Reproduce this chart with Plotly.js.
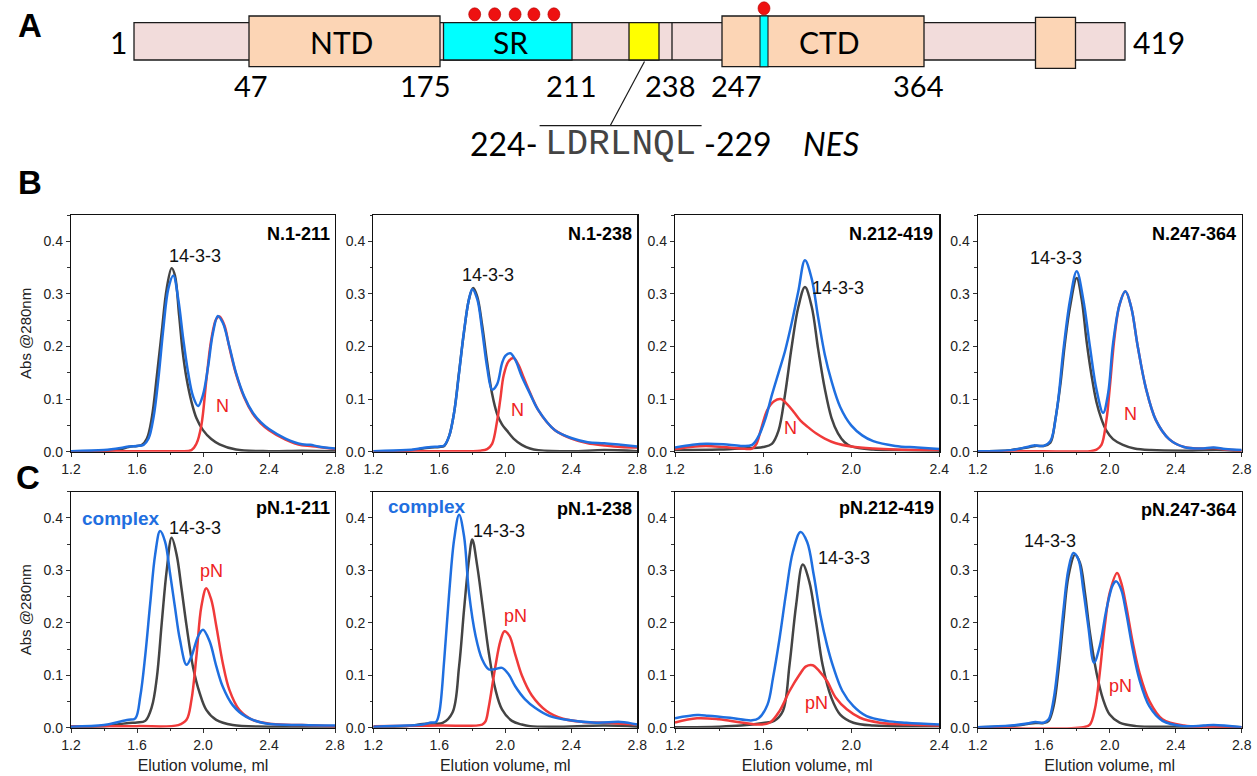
<!DOCTYPE html>
<html><head><meta charset="utf-8">
<script src="https://cdn.plot.ly/plotly-3.0.1.min.js"></script>
<style>html,body{margin:0;padding:0;background:#fff}#chart{width:1257px;height:776px}</style>
</head><body><div id="chart"></div>
<script>
// ================= DATA =================
// Panel A (domain schematic) texts
const endLabels = ['1', '419'];
const domainNames = ['NTD', 'SR', 'CTD'];
const boundaryLabels = ['47', '175', '211', '238', '247', '364'];
const nesFrom = '224-';
const nesSeq = 'LDRLNQL';
const nesTo = '-229';
const nesName = 'NES';

// Panel titles and labels
const panelTitles = ['N.1-211', 'N.1-238', 'N.212-419', 'N.247-364', 'pN.1-211', 'pN.1-238', 'pN.212-419', 'pN.247-364'];
const xTitle = 'Elution volume, ml';
const yTitle = 'Abs @280nm';
const xTickVals = [1.2, 1.6, 2.0, 2.4, 2.8];
const yTickVals = [0.0, 0.1, 0.2, 0.3, 0.4];

// ---- B1: N.1-211 ----
const b1_x_1433 = [1.2,1.4,1.5,1.55,1.6,1.63,1.66,1.69,1.72,1.75,1.78,1.81,1.83,1.855,1.877,1.9,1.93,1.96,2.0,2.05,2.1,2.2,2.4,2.6,2.8];
const b1_y_1433 = [0.0,0.001,0.005,0.009,0.011,0.013,0.025,0.065,0.143,0.228,0.31,0.349,0.335,0.26,0.19,0.14,0.095,0.064,0.041,0.024,0.014,0.004,0.001,0.002,0.001];
const b1_x_N = [1.2,1.6,1.85,1.93,1.96,1.99,2.02,2.05,2.08,2.1,2.13,2.16,2.2,2.25,2.3,2.35,2.4,2.5,2.6,2.65,2.7,2.8];
const b1_y_N = [0.001,0.001,0.001,0.003,0.015,0.05,0.135,0.213,0.252,0.257,0.24,0.198,0.148,0.103,0.073,0.054,0.041,0.023,0.012,0.011,0.009,0.005];
const b1_x_mix = [1.2,1.4,1.5,1.55,1.6,1.64,1.67,1.7,1.73,1.76,1.79,1.82,1.85,1.88,1.91,1.94,1.97,2.0,2.03,2.06,2.09,2.12,2.16,2.2,2.25,2.3,2.35,2.4,2.5,2.6,2.65,2.7,2.8];
const b1_y_mix = [0.001,0.003,0.007,0.01,0.011,0.013,0.025,0.065,0.14,0.235,0.31,0.335,0.29,0.215,0.15,0.105,0.087,0.108,0.16,0.225,0.258,0.245,0.2,0.15,0.105,0.075,0.056,0.043,0.025,0.014,0.013,0.01,0.006];

// ---- B2: N.1-238 ----
const b2_x_1433 = [1.2,1.4,1.5,1.55,1.6,1.63,1.66,1.69,1.72,1.75,1.78,1.805,1.83,1.86,1.89,1.92,1.95,1.98,2.01,2.05,2.1,2.15,2.2,2.4,2.6,2.8];
const b2_y_1433 = [0.001,0.002,0.006,0.008,0.009,0.011,0.03,0.075,0.152,0.228,0.29,0.311,0.295,0.24,0.17,0.11,0.072,0.052,0.04,0.025,0.013,0.006,0.003,0.001,0.003,0.001];
const b2_x_N = [1.2,1.6,1.85,1.89,1.92,1.95,1.97,1.99,2.02,2.05,2.08,2.11,2.15,2.2,2.25,2.3,2.4,2.5,2.6,2.7,2.8];
const b2_y_N = [0.001,0.001,0.002,0.005,0.015,0.058,0.1,0.145,0.172,0.178,0.165,0.142,0.112,0.079,0.057,0.041,0.025,0.016,0.012,0.009,0.008];
const b2_x_mix = [1.2,1.4,1.5,1.55,1.6,1.63,1.66,1.69,1.72,1.75,1.78,1.8,1.83,1.86,1.89,1.92,1.95,1.98,2.0,2.03,2.06,2.1,2.15,2.2,2.3,2.4,2.5,2.6,2.7,2.8];
const b2_y_mix = [0.001,0.003,0.007,0.009,0.01,0.012,0.03,0.075,0.15,0.23,0.29,0.309,0.29,0.23,0.16,0.118,0.128,0.168,0.182,0.187,0.175,0.143,0.11,0.079,0.041,0.026,0.018,0.016,0.013,0.01];

// ---- B3: N.212-419 ----
const b3_x_1433 = [1.2,1.4,1.5,1.6,1.64,1.67,1.7,1.73,1.76,1.79,1.82,1.85,1.88,1.91,1.94,1.97,2.0,2.1,2.2,2.4];
const b3_y_1433 = [0.003,0.004,0.006,0.009,0.015,0.04,0.11,0.2,0.275,0.313,0.277,0.195,0.12,0.065,0.035,0.018,0.01,0.004,0.003,0.002];
const b3_x_N = [1.2,1.27,1.34,1.42,1.5,1.55,1.57,1.59,1.62,1.65,1.68,1.71,1.74,1.77,1.8,1.84,1.88,1.93,2.0,2.1,2.2,2.4];
const b3_y_N = [0.005,0.009,0.011,0.009,0.006,0.006,0.015,0.042,0.08,0.096,0.1,0.09,0.075,0.059,0.048,0.035,0.025,0.016,0.01,0.006,0.004,0.003];
const b3_x_mix = [1.2,1.28,1.34,1.42,1.5,1.55,1.58,1.61,1.64,1.67,1.7,1.73,1.76,1.79,1.82,1.85,1.88,1.91,1.95,2.0,2.05,2.1,2.2,2.3,2.4];
const b3_y_mix = [0.008,0.013,0.015,0.014,0.011,0.013,0.03,0.062,0.108,0.15,0.192,0.245,0.305,0.364,0.33,0.255,0.185,0.135,0.085,0.05,0.031,0.02,0.011,0.008,0.005];

// ---- B4: N.247-364 ----
const b4_x_1433 = [1.2,1.4,1.5,1.55,1.6,1.64,1.67,1.7,1.73,1.76,1.8,1.83,1.86,1.89,1.92,1.95,1.98,2.02,2.08,2.15,2.25,2.5,2.65,2.8];
const b4_y_1433 = [0.001,0.003,0.008,0.011,0.011,0.017,0.06,0.125,0.21,0.276,0.33,0.29,0.21,0.145,0.094,0.062,0.04,0.024,0.013,0.006,0.003,0.002,0.003,0.001];
const b4_x_N = [1.2,1.6,1.88,1.92,1.95,1.98,2.0,2.03,2.06,2.095,2.13,2.17,2.22,2.28,2.36,2.45,2.55,2.63,2.7,2.8];
const b4_y_N = [0.001,0.001,0.001,0.004,0.013,0.06,0.12,0.22,0.28,0.305,0.275,0.2,0.12,0.06,0.024,0.009,0.006,0.007,0.004,0.002];
const b4_x_mix = [1.2,1.4,1.5,1.54,1.6,1.64,1.68,1.72,1.76,1.8,1.84,1.88,1.92,1.96,1.99,2.02,2.06,2.095,2.13,2.17,2.22,2.28,2.36,2.45,2.55,2.63,2.7,2.8];
const b4_y_mix = [0.001,0.003,0.009,0.012,0.011,0.02,0.08,0.195,0.289,0.343,0.289,0.2,0.118,0.074,0.11,0.205,0.28,0.305,0.275,0.2,0.12,0.06,0.024,0.009,0.006,0.008,0.005,0.003];

// ---- C1: pN.1-211 ----
const c1_x_1433 = [1.2,1.4,1.5,1.55,1.6,1.65,1.69,1.72,1.75,1.78,1.81,1.84,1.87,1.9,1.94,1.98,2.02,2.08,2.18,2.4,2.8];
const c1_y_1433 = [0.001,0.003,0.007,0.009,0.01,0.013,0.04,0.095,0.2,0.3,0.362,0.33,0.265,0.195,0.115,0.066,0.034,0.015,0.005,0.002,0.001];
const c1_x_pN = [1.2,1.6,1.85,1.9,1.93,1.96,1.99,2.02,2.05,2.08,2.12,2.16,2.22,2.3,2.42,2.6,2.8];
const c1_y_pN = [0.003,0.003,0.005,0.015,0.053,0.136,0.231,0.266,0.244,0.195,0.123,0.072,0.034,0.015,0.007,0.005,0.003];
const c1_x_cx = [1.2,1.4,1.5,1.55,1.59,1.62,1.65,1.68,1.71,1.74,1.77,1.8,1.83,1.86,1.9,1.93,1.97,2.0,2.04,2.08,2.12,2.18,2.26,2.38,2.6,2.8];
const c1_y_cx = [0.002,0.005,0.012,0.015,0.018,0.06,0.138,0.237,0.33,0.375,0.355,0.295,0.23,0.168,0.12,0.136,0.174,0.187,0.165,0.118,0.078,0.043,0.021,0.008,0.005,0.004];

// ---- C2: pN.1-238 ----
const c2_x_1433 = [1.2,1.4,1.5,1.55,1.62,1.68,1.72,1.75,1.78,1.8,1.83,1.86,1.9,1.94,1.98,2.04,2.1,2.15,2.3,2.6,2.8];
const c2_y_1433 = [0.001,0.003,0.007,0.008,0.009,0.029,0.117,0.225,0.321,0.359,0.308,0.238,0.143,0.073,0.035,0.013,0.006,0.003,0.002,0.004,0.002];
const c2_x_pN = [1.2,1.6,1.86,1.88,1.9,1.94,1.97,1.995,2.025,2.06,2.1,2.16,2.25,2.35,2.47,2.6,2.8];
const c2_y_pN = [0.003,0.004,0.006,0.012,0.04,0.117,0.165,0.184,0.175,0.14,0.1,0.062,0.032,0.017,0.011,0.0095,0.006];
const c2_x_cx = [1.2,1.4,1.5,1.55,1.58,1.6,1.63,1.66,1.69,1.72,1.75,1.78,1.82,1.86,1.9,1.94,1.98,2.02,2.06,2.12,2.18,2.27,2.35,2.55,2.7,2.8];
const c2_y_cx = [0.002,0.004,0.006,0.01,0.011,0.029,0.13,0.257,0.359,0.406,0.365,0.257,0.175,0.13,0.111,0.112,0.114,0.102,0.079,0.054,0.038,0.022,0.016,0.0095,0.011,0.006];

// ---- C3: pN.212-419 ----
const c3_x_1433 = [1.2,1.4,1.5,1.6,1.65,1.69,1.72,1.75,1.78,1.81,1.84,1.87,1.91,1.95,2.01,2.1,2.4];
const c3_y_1433 = [0.001,0.002,0.004,0.009,0.013,0.032,0.12,0.234,0.311,0.278,0.203,0.12,0.057,0.025,0.0095,0.004,0.003];
const c3_x_pN = [1.2,1.3,1.4,1.5,1.58,1.63,1.675,1.72,1.765,1.795,1.825,1.855,1.89,1.93,1.98,2.04,2.13,2.25,2.4];
const c3_y_pN = [0.01,0.018,0.016,0.01,0.006,0.0095,0.032,0.07,0.101,0.117,0.119,0.108,0.089,0.057,0.035,0.019,0.0095,0.006,0.004];
const c3_x_cx = [1.2,1.3,1.35,1.45,1.55,1.58,1.62,1.645,1.675,1.705,1.735,1.77,1.8,1.83,1.86,1.89,1.92,1.96,2.01,2.07,2.16,2.25,2.4];
const c3_y_cx = [0.018,0.024,0.023,0.019,0.014,0.018,0.044,0.095,0.171,0.259,0.335,0.373,0.354,0.291,0.215,0.158,0.114,0.07,0.041,0.022,0.013,0.0095,0.006];

// ---- C4: pN.247-364 ----
const c4_x_1433 = [1.2,1.4,1.5,1.55,1.6,1.63,1.66,1.69,1.72,1.75,1.79,1.82,1.85,1.88,1.92,1.96,2.0,2.06,2.16,2.4,2.6,2.8];
const c4_y_1433 = [0.001,0.003,0.007,0.009,0.009,0.013,0.041,0.111,0.206,0.289,0.33,0.314,0.257,0.181,0.105,0.054,0.025,0.0095,0.003,0.002,0.003,0.001];
const c4_x_pN = [1.2,1.84,1.88,1.91,1.94,1.97,2.0,2.045,2.07,2.1,2.14,2.18,2.24,2.32,2.45,2.8];
const c4_y_pN = [0.001,0.001,0.006,0.035,0.105,0.194,0.257,0.295,0.276,0.232,0.162,0.105,0.051,0.016,0.004,0.001];
const c4_x_cx = [1.2,1.4,1.5,1.55,1.6,1.63,1.66,1.69,1.72,1.75,1.78,1.81,1.84,1.87,1.905,1.94,1.98,2.02,2.04,2.07,2.1,2.14,2.18,2.24,2.32,2.45,2.57,2.63,2.8];
const c4_y_cx = [0.001,0.004,0.008,0.011,0.0095,0.016,0.054,0.13,0.225,0.302,0.333,0.321,0.263,0.194,0.124,0.156,0.225,0.273,0.279,0.263,0.219,0.149,0.092,0.041,0.013,0.003,0.004,0.005,0.001];

// ================= LAYOUT / STYLE =================
const W = 1257, H = 776;
const PX = v => v / W;
const PY = v => 1 - v / H;
const C_BLACK = '#444444', C_RED = '#f03a3a', C_BLUE = '#1f6fe0';
const FONT = 'Liberation Sans, Arial, sans-serif';
const CAL = 'Lato, Carlito, Calibri, sans-serif';

const panelSeries = [
  [[b1_x_1433,b1_y_1433],[b1_x_N,b1_y_N],[b1_x_mix,b1_y_mix]],
  [[b2_x_1433,b2_y_1433],[b2_x_N,b2_y_N],[b2_x_mix,b2_y_mix]],
  [[b3_x_1433,b3_y_1433],[b3_x_N,b3_y_N],[b3_x_mix,b3_y_mix]],
  [[b4_x_1433,b4_y_1433],[b4_x_N,b4_y_N],[b4_x_mix,b4_y_mix]],
  [[c1_x_1433,c1_y_1433],[c1_x_pN,c1_y_pN],[c1_x_cx,c1_y_cx]],
  [[c2_x_1433,c2_y_1433],[c2_x_pN,c2_y_pN],[c2_x_cx,c2_y_cx]],
  [[c3_x_1433,c3_y_1433],[c3_x_pN,c3_y_pN],[c3_x_cx,c3_y_cx]],
  [[c4_x_1433,c4_y_1433],[c4_x_pN,c4_y_pN],[c4_x_cx,c4_y_cx]]
];
const xRanges = [[1.2,2.8],[1.2,2.8],[1.2,2.4],[1.2,2.8]];
const colPx = [[71,335],[373.3,637.3],[675,939.3],[977.7,1241.7]];
const rowPx = [[215,451.7],[491.7,727.7]];

// label placements (data coords of each subplot)
const titleX = [2.78, 2.78, 2.38, 2.78, 2.78, 2.78, 2.385, 2.78];
const titleY = [0.414, 0.414, 0.414, 0.414, 0.418, 0.417, 0.418, 0.416];
const lab1433 = [[1.951,0.372],[1.897,0.336],[1.942,0.311],[1.673,0.368],[1.949,0.381],[1.96,0.375],[1.967,0.323],[1.638,0.356]];
const labN = [[2.12,0.086],[2.073,0.079],[1.725,0.046],[2.129,0.072],[2.05,0.298],[2.062,0.213],[1.842,0.047],[2.067,0.079]];
const labComplex = {4:[1.504,0.398], 5:[1.528,0.422]};

const traces = [];
const layout = {
  width: W, height: H,
  margin: {l:0, r:0, t:0, b:0},
  paper_bgcolor: '#ffffff', plot_bgcolor: '#ffffff',
  showlegend: false,
  font: {family: FONT, color: '#000'},
  annotations: [], shapes: []
};

for (let i = 0; i < 8; i++) {
  const col = i % 4, row = Math.floor(i / 4);
  const xa = 'x' + (i === 0 ? '' : i + 1), ya = 'y' + (i === 0 ? '' : i + 1);
  const xk = 'xaxis' + (i === 0 ? '' : i + 1), yk = 'yaxis' + (i === 0 ? '' : i + 1);
  const colors = [C_BLACK, C_RED, C_BLUE];
  panelSeries[i].forEach((s, k) => {
    traces.push({x: s[0], y: s[1], xaxis: xa, yaxis: ya, type: 'scatter', mode: 'lines',
      line: {color: colors[k], width: 2.5, shape: 'spline', smoothing: 1}, hoverinfo: 'skip'});
  });
  const xr = xRanges[col];
  layout[xk] = {
    domain: [PX(colPx[col][0]), PX(colPx[col][1])], anchor: ya, range: xr,
    tickmode: 'array', tickvals: xTickVals.filter(v => v <= xr[1] + 1e-9), tickformat: '.1f',
    ticks: 'outside', ticklen: 4, tickwidth: 1, tickcolor: '#333',
    minor: {tickmode: 'linear', tick0: 1.2, dtick: 0.2, ticks: 'outside', ticklen: 2.5, tickcolor: '#333'},
    showline: true, linecolor: '#111', linewidth: 1.2, mirror: true,
    showgrid: false, zeroline: false,
    tickfont: {family: FONT, size: 14, color: '#222'},
    title: row === 1 ? {text: xTitle, font: {family: FONT, size: 16, color: '#222'}, standoff: 8} : {text: ''}
  };
  layout[yk] = {
    domain: [PY(rowPx[row][1]), PY(rowPx[row][0])], anchor: xa, range: [0, 0.45],
    tickmode: 'array', tickvals: yTickVals, tickformat: '.1f',
    ticks: 'outside', ticklen: 4, tickwidth: 1, tickcolor: '#333',
    minor: {tickmode: 'linear', tick0: 0, dtick: 0.05, ticks: 'outside', ticklen: 2.5, tickcolor: '#333'},
    showline: true, linecolor: '#111', linewidth: 1.2, mirror: true,
    showgrid: false, zeroline: false,
    tickfont: {family: FONT, size: 14, color: '#222'},
    title: col === 0 ? {text: yTitle, font: {family: FONT, size: 15, color: '#222'}, standoff: 8} : {text: ''}
  };
  // panel title
  layout.annotations.push({xref: xa, yref: ya, x: titleX[i], y: titleY[i], text: '<b>' + panelTitles[i] + '</b>',
    showarrow: false, xanchor: 'right', yanchor: 'middle', font: {family: FONT, size: 18, color: '#000'}});
  layout.annotations.push({xref: xa, yref: ya, x: lab1433[i][0], y: lab1433[i][1], text: '14-3-3',
    showarrow: false, xanchor: 'center', yanchor: 'middle', font: {family: FONT, size: 18, color: '#111'}});
  layout.annotations.push({xref: xa, yref: ya, x: labN[i][0], y: labN[i][1], text: row === 0 ? 'N' : 'pN',
    showarrow: false, xanchor: 'center', yanchor: 'middle', font: {family: FONT, size: 18, color: '#ee2222'}});
  if (labComplex[i]) {
    layout.annotations.push({xref: xa, yref: ya, x: labComplex[i][0], y: labComplex[i][1], text: '<b>complex</b>',
      showarrow: false, xanchor: 'center', yanchor: 'middle', font: {family: FONT, size: 19, color: C_BLUE}});
  }
}

// panel letters
[['A', 30, 26], ['B', 30, 182], ['C', 28, 477]].forEach(p => {
  layout.annotations.push({xref: 'paper', yref: 'paper', x: PX(p[1]), y: PY(p[2]), text: '<b>' + p[0] + '</b>',
    showarrow: false, xanchor: 'center', yanchor: 'middle', font: {family: FONT, size: 33, color: '#000'}});
});

// ---------- Panel A schematic (not to scale; schematic positions in px) ----------
const PEACH = '#fcd5b5', PINK = '#f2dcdb', OUT = '#1a1a1a';
function rect(x0, x1, y0, y1, fill, lw) {
  layout.shapes.push({type: 'rect', xref: 'paper', yref: 'paper', x0: PX(x0), x1: PX(x1), y0: PY(y1), y1: PY(y0),
    fillcolor: fill, line: {color: OUT, width: lw === undefined ? 1.3 : lw}});
}
function seg(x0, y0, x1, y1, w) {
  layout.shapes.push({type: 'line', xref: 'paper', yref: 'paper', x0: PX(x0), y0: PY(y0), x1: PX(x1), y1: PY(y1),
    line: {color: OUT, width: w || 1.3}});
}
function dot(cx, cy) {
  layout.shapes.push({type: 'circle', xref: 'paper', yref: 'paper', x0: PX(cx - 6), x1: PX(cx + 6), y0: PY(cy + 6.5), y1: PY(cy - 6.5),
    fillcolor: '#ee1111', line: {color: '#b00000', width: 0.6}});
}
function txt(x, y, t, size, opts) {
  layout.annotations.push(Object.assign({xref: 'paper', yref: 'paper', x: PX(x), y: PY(y), text: t, showarrow: false,
    xanchor: 'center', yanchor: 'middle', font: {family: CAL, size: size, color: '#000'}}, opts || {}));
}
// backbone
rect(134, 1125, 22.7, 60, PINK);
// NTD
rect(249, 440, 16, 66.7, PEACH);
// SR
rect(443.5, 572, 22.7, 60, '#00ffff');
// NES (yellow)
rect(629, 659, 22.7, 60, '#ffff00');
seg(672, 22.7, 672, 60);
// CTD
rect(722, 924, 16, 66.7, PEACH);
rect(760, 768, 16, 66.7, '#00ffff', 1.1);
// small C-terminal box
rect(1035.5, 1075.5, 17.3, 68.3, PEACH);
// phospho dots
[474.7, 494.7, 515.1, 533.9, 553.9].forEach(cx => dot(cx, 14.3));
dot(764, 8.3);
// NES pointer + overline
seg(644.5, 61.5, 610.2, 125.7, 1.2);
seg(539.6, 125.7, 701.6, 125.7, 1.2);

txt(118, 42, endLabels[0], 30);
txt(1159, 42, endLabels[1], 30);
txt(341, 42, domainNames[0], 30);
txt(510, 42, domainNames[1], 30);
txt(829, 42, domainNames[2], 30);
[251, 424.5, 571.4, 670, 736.3, 917.6].forEach((x, k) => txt(x, 85, boundaryLabels[k], 29));
txt(539.6, 143, nesFrom, 32, {xanchor: 'right'});
txt(620.6, 144, nesSeq, 36, {font: {family: 'Liberation Mono, DejaVu Sans Mono, monospace', size: 36, color: '#444'}});
txt(701.6, 143, nesTo, 32, {xanchor: 'left'});
txt(831, 143, '<i>' + nesName + '</i>', 32);

Plotly.newPlot('chart', traces, layout, {displayModeBar: false, staticPlot: true});
</script>
</body></html>
